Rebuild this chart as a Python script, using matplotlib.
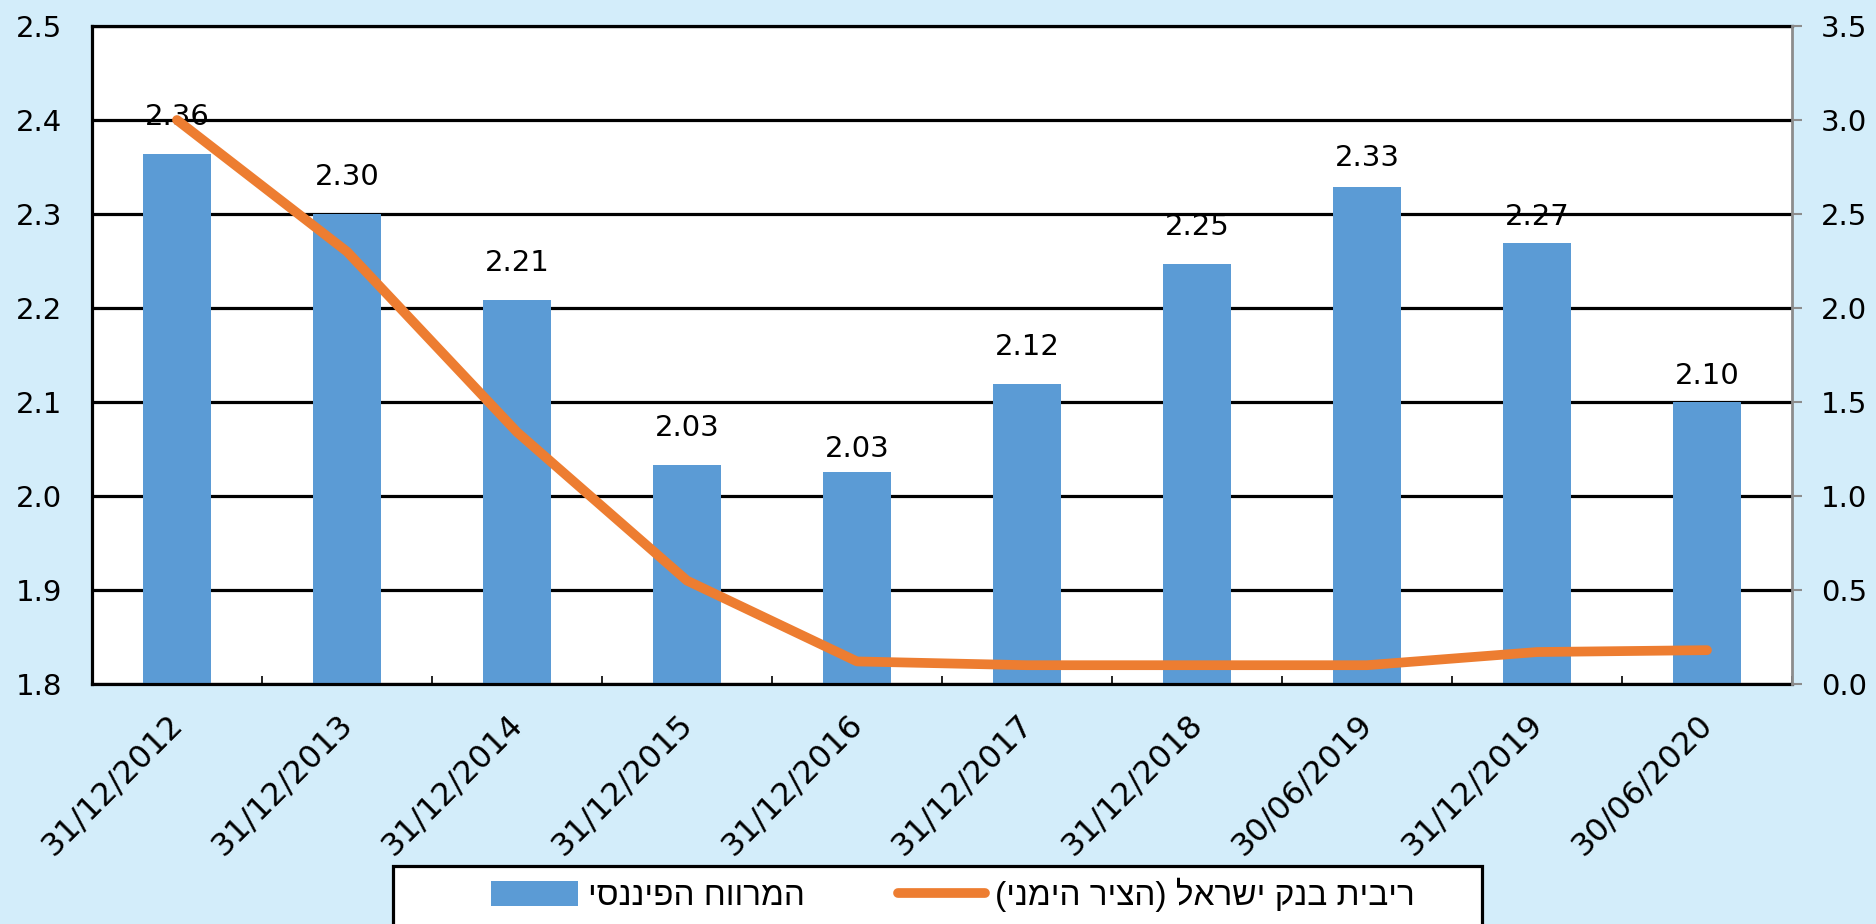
import numpy as np
import matplotlib
matplotlib.use("Agg")
import matplotlib.pyplot as plt
import matplotlib.transforms as mtransforms
from matplotlib.patches import Rectangle

# --- data ---
dates = ['31/12/2012', '31/12/2013', '31/12/2014', '31/12/2015', '31/12/2016',
         '31/12/2017', '31/12/2018', '30/06/2019', '31/12/2019', '30/06/2020']
spread = [2.364, 2.300, 2.208, 2.033, 2.026, 2.119, 2.247, 2.329, 2.269, 2.100]
boi_rate = [3.00, 2.30, 1.34, 0.55, 0.12, 0.10, 0.10, 0.10, 0.17, 0.18]

left_ticks = [1.8, 1.9, 2.0, 2.1, 2.2, 2.3, 2.4, 2.5]
right_ticks = [0.0, 0.5, 1.0, 1.5, 2.0, 2.5, 3.0, 3.5]

label_spread = 'המרווח הפיננסי'
label_rate = 'ריבית בנק ישראל (הציר הימני)'

# vertical gap (px) between bar top and its value label
label_gap_px = [37, 37, 37, 37, 23, 37, 37, 29, 26, 26]

BG = '#D3EDFA'
BLUE = '#5B9BD5'
ORANGE = '#ED7D31'
DPI = 100


def visual(s):
    # matplotlib draws left-to-right, so flip RTL text into visual order
    swap = {'(': ')', ')': '('}
    return ''.join(swap.get(c, c) for c in s[::-1])


plt.rcParams['font.family'] = ['DejaVu Sans']

fig = plt.figure(figsize=(18.76, 9.24), dpi=DPI, facecolor=BG)
W, H = 1876, 924
ax = fig.add_axes([92 / W, 1 - 684 / H, (1792 - 92) / W, (684 - 26) / H])
ax.set_facecolor('white')

x = np.arange(len(dates))
ax.bar(x, spread, width=0.4, color=BLUE, zorder=2, label=visual(label_spread))
ax.set_xlim(-0.5, len(dates) - 0.5)
ax.set_ylim(1.8, 2.5)
ax.set_yticks(left_ticks)
ax.set_yticklabels([f'{v:.1f}' for v in left_ticks])
ax.yaxis.grid(True, color='black', linewidth=2.3, zorder=0)
ax.set_axisbelow(True)
ax.tick_params(axis='y', length=0, pad=30 * 0.72, labelsize=21)

ax.set_xticks(x)
ax.set_xticklabels(dates, rotation=45, ha='right', va='top', rotation_mode='anchor')
ax.tick_params(axis='x', which='major', length=0, pad=18, labelsize=23)
shift = mtransforms.ScaledTranslation(-10 / DPI, 0, fig.dpi_scale_trans)
for lbl in ax.get_xticklabels():
    lbl.set_transform(lbl.get_transform() + shift)
ax.set_xticks(np.arange(-0.5, len(dates), 1), minor=True)
ax.tick_params(axis='x', which='minor', direction='in', length=6, width=1.2, color='black')

for sp in ['left', 'bottom', 'top']:
    ax.spines[sp].set_color('black')
    ax.spines[sp].set_linewidth(2.3)
ax.spines['right'].set_visible(False)

for xi, v, gap in zip(x, spread, label_gap_px):
    ax.annotate(f'{v:.2f}', (xi, v), xytext=(0, gap * 72 / DPI), textcoords='offset points',
                ha='center', va='center', fontsize=21, color='black', zorder=3)

ax2 = ax.twinx()
ax2.plot(x, boi_rate, color=ORANGE, linewidth=7, solid_capstyle='round',
         solid_joinstyle='round', label=visual(label_rate), zorder=4)
ax2.set_ylim(0, 3.5)
ax2.set_yticks(right_ticks)
ax2.set_yticklabels([f'{v:.1f}' for v in right_ticks])
ax2.tick_params(axis='y', direction='out', length=7, width=1.5, color='#8C8C8C',
                pad=14, labelsize=21)
for sp in ['left', 'bottom', 'top']:
    ax2.spines[sp].set_visible(False)
ax2.spines['right'].set_color('#8C8C8C')
ax2.spines['right'].set_linewidth(2)

# legend box at the bottom (frame partly cut off by the figure edge)
fig.patches.append(Rectangle((393 / W, -0.02), (1482 - 393) / W, (924 - 866) / H + 0.02,
                             transform=fig.transFigure, facecolor='white',
                             edgecolor='black', linewidth=2.3, zorder=1))
h1, l1 = ax.get_legend_handles_labels()
h2, l2 = ax2.get_legend_handles_labels()
fig.legend(h1 + h2, l1 + l2, loc='center', ncol=2, frameon=False,
           bbox_to_anchor=(953 / W, 1 - 895 / H),
           prop={'family': ['Liberation Sans', 'DejaVu Sans'], 'size': 24},
           handlelength=2.6, handleheight=0.8, handletextpad=0.3, columnspacing=2.8)

fig.savefig('out.png', dpi=DPI, facecolor=BG)
